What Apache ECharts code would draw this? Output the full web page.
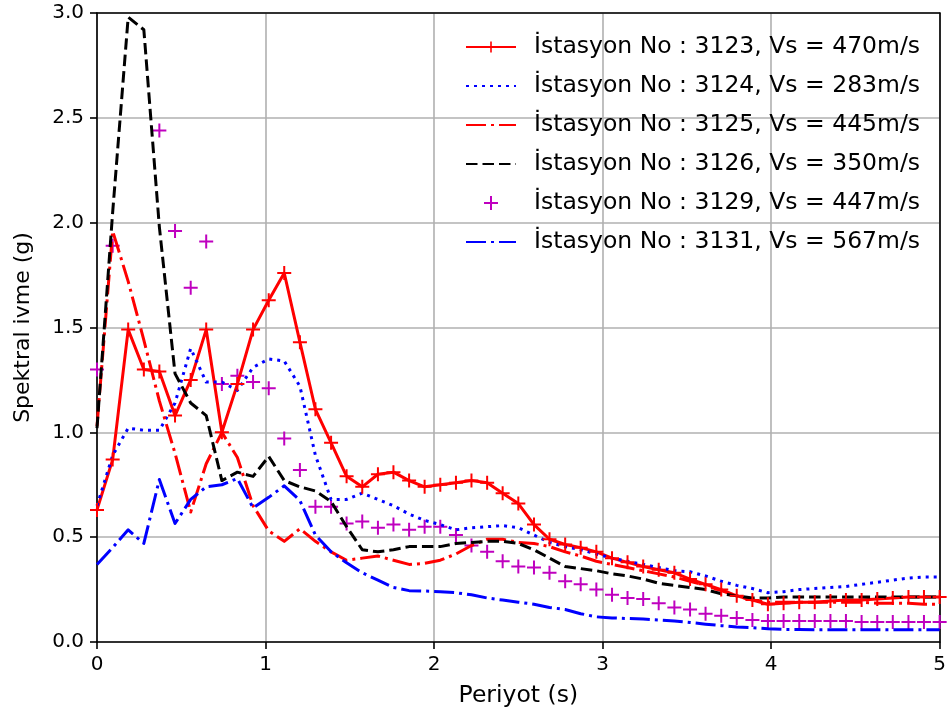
<!DOCTYPE html>
<html><head><meta charset="utf-8">
<script src="https://cdn.jsdelivr.net/npm/echarts@6/dist/echarts.min.js"></script>
<style>html,body{margin:0;padding:0;background:#fff}#c{width:949px;height:722px}</style>
</head><body><div id="c"></div>
<script>
// Period (s)
const periods = [0, 0.093, 0.185, 0.278, 0.370, 0.463, 0.556, 0.648, 0.741, 0.833, 0.926, 1.019, 1.111, 1.204, 1.296, 1.389, 1.481, 1.574, 1.667, 1.759, 1.852, 1.944, 2.037, 2.130, 2.222, 2.315, 2.407, 2.500, 2.593, 2.685, 2.778, 2.870, 2.963, 3.056, 3.148, 3.241, 3.333, 3.426, 3.519, 3.611, 3.704, 3.796, 3.889, 3.981, 4.074, 4.167, 4.259, 4.352, 4.444, 4.537, 4.630, 4.722, 4.815, 4.907, 5.000];

const s3123 = [0.63, 0.87, 1.49, 1.30, 1.29, 1.08, 1.25, 1.49, 1.00, 1.23, 1.49, 1.63, 1.76, 1.43, 1.11, 0.95, 0.79, 0.74, 0.80, 0.81, 0.77, 0.74, 0.75, 0.76, 0.77, 0.76, 0.71, 0.66, 0.56, 0.49, 0.465, 0.45, 0.43, 0.40, 0.38, 0.36, 0.345, 0.33, 0.30, 0.275, 0.25, 0.22, 0.20, 0.18, 0.185, 0.19, 0.19, 0.195, 0.20, 0.20, 0.205, 0.21, 0.215, 0.215, 0.215];
const s3124 = [0.65, 0.89, 1.02, 1.01, 1.01, 1.14, 1.40, 1.24, 1.24, 1.20, 1.31, 1.35, 1.34, 1.22, 0.89, 0.68, 0.68, 0.71, 0.68, 0.65, 0.61, 0.58, 0.56, 0.535, 0.545, 0.55, 0.555, 0.545, 0.51, 0.475, 0.455, 0.44, 0.42, 0.40, 0.385, 0.37, 0.355, 0.34, 0.335, 0.315, 0.29, 0.27, 0.255, 0.235, 0.24, 0.25, 0.255, 0.26, 0.265, 0.275, 0.285, 0.295, 0.305, 0.31, 0.31];
const s3125 = [1.03, 1.96, 1.72, 1.44, 1.15, 0.90, 0.62, 0.85, 1.00, 0.88, 0.65, 0.53, 0.48, 0.54, 0.48, 0.43, 0.39, 0.40, 0.41, 0.39, 0.37, 0.375, 0.39, 0.42, 0.46, 0.49, 0.49, 0.475, 0.47, 0.455, 0.43, 0.41, 0.385, 0.37, 0.355, 0.34, 0.325, 0.31, 0.29, 0.27, 0.245, 0.22, 0.20, 0.19, 0.19, 0.19, 0.19, 0.19, 0.19, 0.19, 0.185, 0.185, 0.185, 0.18, 0.18];
const s3126 = [1.02, 2.05, 2.98, 2.92, 1.98, 1.28, 1.14, 1.08, 0.77, 0.81, 0.79, 0.885, 0.77, 0.74, 0.72, 0.67, 0.55, 0.44, 0.43, 0.44, 0.455, 0.455, 0.455, 0.47, 0.475, 0.48, 0.48, 0.47, 0.44, 0.40, 0.36, 0.35, 0.34, 0.325, 0.315, 0.30, 0.28, 0.27, 0.26, 0.25, 0.23, 0.22, 0.21, 0.21, 0.215, 0.215, 0.215, 0.215, 0.215, 0.215, 0.215, 0.215, 0.215, 0.215, 0.215];
const s3129 = [1.30, 1.89, null, null, 2.44, 1.96, 1.69, 1.91, 1.23, 1.27, 1.24, 1.21, 0.97, 0.82, 0.645, 0.645, 0.565, 0.575, 0.545, 0.56, 0.535, 0.55, 0.55, 0.51, 0.46, 0.43, 0.385, 0.36, 0.355, 0.33, 0.29, 0.275, 0.25, 0.225, 0.21, 0.205, 0.185, 0.165, 0.155, 0.135, 0.125, 0.115, 0.105, 0.10, 0.10, 0.10, 0.10, 0.10, 0.10, 0.095, 0.095, 0.095, 0.095, 0.095, 0.095];
const s3131 = [0.37, 0.45, 0.535, 0.47, 0.775, 0.565, 0.68, 0.74, 0.75, 0.78, 0.64, 0.69, 0.745, 0.675, 0.51, 0.43, 0.378, 0.33, 0.295, 0.26, 0.245, 0.243, 0.24, 0.235, 0.225, 0.21, 0.20, 0.19, 0.18, 0.165, 0.155, 0.135, 0.12, 0.115, 0.112, 0.11, 0.105, 0.10, 0.093, 0.085, 0.078, 0.072, 0.068, 0.063, 0.06, 0.06, 0.058, 0.058, 0.058, 0.058, 0.058, 0.058, 0.058, 0.058, 0.058];

const seriesNames = [
  'İstasyon No : 3123, Vs = 470m/s',
  'İstasyon No : 3124, Vs = 283m/s',
  'İstasyon No : 3125, Vs = 445m/s',
  'İstasyon No : 3126, Vs = 350m/s',
  'İstasyon No : 3129, Vs = 447m/s',
  'İstasyon No : 3131, Vs = 567m/s'
];
const yTicks = [0, 0.5, 1.0, 1.5, 2.0, 2.5, 3.0];
const xTicks = [0, 1, 2, 3, 4, 5];

const FONT = 'DejaVu Sans';
const PLUS = 'path://M-1,-7L1,-7L1,-1L7,-1L7,1L1,1L1,7L-1,7L-1,1L-7,1L-7,-1L-1,-1Z';
const pairs = arr => periods.map((t, i) => [t, arr[i]]).filter(p => p[1] !== null);

function lineSeries(name, arr, color, type, symbol) {
  return {
    name, type: 'line', data: pairs(arr),
    symbol: symbol || 'none', symbolSize: 14, showSymbol: !!symbol,
    itemStyle: { color },
    lineStyle: { color, width: 3, type, cap: 'butt', join: 'round' },
    clip: true, silent: true
  };
}

const chart = echarts.init(document.getElementById('c'), null, { renderer: 'canvas' });
const axisCommon = {
  min: 0, axisLine: { show: true, lineStyle: { color: '#000', width: 1.6 } },
  axisTick: { show: true, inside: false, length: 7, lineStyle: { color: '#000', width: 1.6 } },
  axisLabel: { color: '#000', fontFamily: FONT, fontSize: 20, margin: 13 },
  splitLine: { show: true, lineStyle: { color: '#b0b0b0', width: 1.6 } },
  nameTextStyle: { color: '#000', fontFamily: FONT, fontSize: 23.5 },
  nameLocation: 'middle'
};
chart.setOption({
  animation: false,
  backgroundColor: '#fff',
  grid: { left: 97, top: 13, width: 846, height: 629, containLabel: false },
  xAxis: [
    Object.assign({}, axisCommon, {
      type: 'value', max: 5, interval: 1, name: 'Periyot (s)', nameGap: 42,
      axisLabel: Object.assign({}, axisCommon.axisLabel, { formatter: v => xTicks.includes(v) ? String(v) : '' })
    }),
    { type: 'value', min: 0, max: 5, position: 'top', axisLine: { show: true, onZero: false, lineStyle: { color: '#000', width: 1.6 } },
      axisTick: { show: false }, axisLabel: { show: false }, splitLine: { show: false } }
  ],
  yAxis: [
    Object.assign({}, axisCommon, {
      type: 'value', max: 3, interval: 0.5, name: 'Spektral ivme (g)', nameGap: 63, nameRotate: 90,
      nameTextStyle: { color: '#000', fontFamily: FONT, fontSize: 22 },
      axisLabel: Object.assign({}, axisCommon.axisLabel, { formatter: v => yTicks.some(t => Math.abs(t - v) < 1e-9) ? v.toFixed(1) : '' })
    }),
    { type: 'value', min: 0, max: 3, position: 'right', axisLine: { show: true, onZero: false, lineStyle: { color: '#000', width: 1.6 } },
      axisTick: { show: false }, axisLabel: { show: false }, splitLine: { show: false } }
  ],
  legend: {
    orient: 'vertical', left: 465, top: 35, padding: 0,
    itemWidth: 50, itemHeight: 14, itemGap: 15, selectedMode: false,
    textStyle: { color: '#000', fontFamily: FONT, fontSize: 23.5, lineHeight: 24, padding: [0, 0, 0, 13] },
    data: [
      { name: seriesNames[0] },
      { name: seriesNames[1], itemStyle: { opacity: 0 } },
      { name: seriesNames[2], itemStyle: { opacity: 0 } },
      { name: seriesNames[3], itemStyle: { opacity: 0 } },
      { name: seriesNames[4] },
      { name: seriesNames[5], itemStyle: { opacity: 0 } }
    ]
  },
  series: [
    lineSeries(seriesNames[0], s3123, '#ff0000', 'solid', PLUS),
    lineSeries(seriesNames[1], s3124, '#0000ff', [3, 5]),
    lineSeries(seriesNames[2], s3125, '#ff0000', [20, 5, 3, 5]),
    lineSeries(seriesNames[3], s3126, '#000000', [11.5, 5]),
    { name: seriesNames[4], type: 'scatter', data: pairs(s3129), symbol: PLUS, symbolSize: 14,
      itemStyle: { color: '#bf00bf', opacity: 1 }, clip: true, silent: true },
    lineSeries(seriesNames[5], s3131, '#0000ff', [20, 5, 3, 5])
  ]
});
</script></body></html>
